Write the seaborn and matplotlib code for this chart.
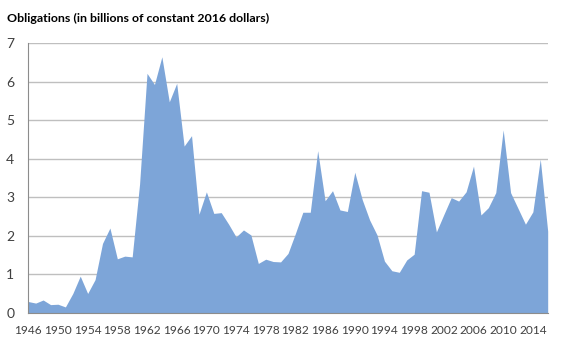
import matplotlib
matplotlib.use("Agg")
import matplotlib.pyplot as plt
import seaborn as sns
import pandas as pd
import numpy as np

years = list(range(1946, 2017))
obligations = [
    0.29, 0.25, 0.33, 0.21, 0.22, 0.15, 0.50, 0.95, 0.50, 0.86,
    1.80, 2.20, 1.40, 1.47, 1.45, 3.35, 6.22, 5.93, 6.65, 5.48,
    5.96, 4.33, 4.60, 2.56, 3.14, 2.58, 2.60, 2.30, 1.97, 2.15,
    2.02, 1.28, 1.39, 1.33, 1.32, 1.54, 2.06, 2.61, 2.61, 4.21,
    2.91, 3.17, 2.67, 2.63, 3.65, 2.94, 2.41, 2.02, 1.34, 1.09,
    1.05, 1.37, 1.52, 3.17, 3.13, 2.10, 2.55, 2.99, 2.90, 3.14,
    3.81, 2.54, 2.73, 3.12, 4.75, 3.12, 2.71, 2.30, 2.62, 3.99,
    2.12,
]
year_labels = list(range(1946, 2015, 4))
y_ticks = [0, 1, 2, 3, 4, 5, 6, 7]
title = "Obligations (in billions of constant 2016 dollars)"

df = pd.DataFrame({"year": years, "value": obligations})

sns.set_style("white")
plt.rcParams["font.family"] = ["Lato", "DejaVu Sans"]

fill_color = "#7DA5D8"
grid_color = "#BFBFBF"
axis_color = "#8C8C8C"

fig = plt.figure(figsize=(5.76, 3.46), dpi=100)
ax = fig.add_axes([28.3 / 576, 1 - 312.7 / 346, (547.7 - 28.3) / 576, (312.7 - 43.3) / 346])

sns.lineplot(data=df, x="year", y="value", ax=ax, color=fill_color, linewidth=0)
ax.fill_between(df["year"], 0, df["value"], color=fill_color, linewidth=0, zorder=2)

ax.set_xlim(1946, 2016)
ax.set_ylim(0, 7)
ax.set_yticks(y_ticks)
ax.set_yticklabels([str(t) for t in y_ticks], fontsize=10, color="#404040")
ax.set_xticks(years, minor=True)
ax.set_xticks(year_labels)
ax.set_xticklabels([str(y) for y in year_labels], fontsize=8.6, color="#404040")
ax.tick_params(axis="x", which="both", direction="out", length=4, width=0.8,
               color=axis_color, pad=5)
ax.tick_params(axis="y", length=0, pad=10)

ax.grid(axis="y", color=grid_color, linewidth=1.0, zorder=0)
ax.set_axisbelow(True)
ax.set_xlabel("")
ax.set_ylabel("")

for side in ["top", "right"]:
    ax.spines[side].set_visible(False)
ax.spines["left"].set_color(axis_color)
ax.spines["left"].set_linewidth(0.8)
ax.spines["bottom"].set_color(axis_color)
ax.spines["bottom"].set_linewidth(0.8)
ax.spines["bottom"].set_zorder(3)

fig.text(7 / 576, 1 - 18 / 346, title, fontsize=8.9, fontweight="bold",
         color="#000000", ha="left", va="center")

fig.savefig("out.png", dpi=100, facecolor="white")
